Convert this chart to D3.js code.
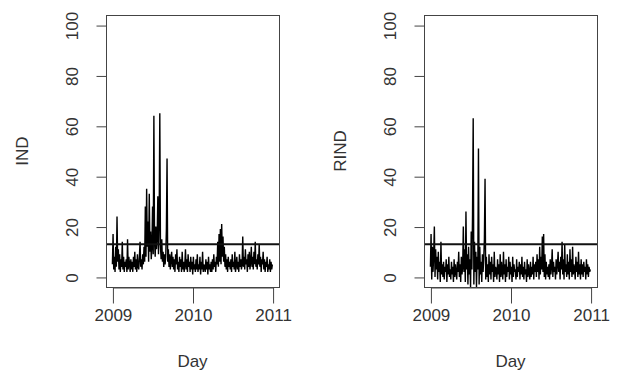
<!DOCTYPE html>
<html>
<head>
<meta charset="utf-8">
<script src="https://cdn.jsdelivr.net/npm/d3@7"></script>
<style>
  html, body { margin: 0; padding: 0; background: #fff; }
  svg { display: block; }
  text { font-family: "Liberation Sans", Arial, Helvetica, sans-serif; fill: #333; }
</style>
</head>
<body>
<svg id="chart" width="618" height="375"></svg>
<script>
// ---- data (one value every 3 days, starting 2009-01-01) ----
const startDate = new Date(2009, 0, 1);
const stepDays = 3;
const xTickLabels = ["2009", "2010", "2011"];
const yTickLabels = [0, 20, 40, 60, 80, 100];
const thresholdIND = 13;
const thresholdRIND = 13;

const ind2009 = [
  5, 17, 3, 8, 2, 12, 4, 24, 6, 11,
  3, 9, 2, 7, 4, 14, 3, 8, 2, 6,
  4, 7, 2, 15, 3, 8, 5, 2, 7, 3,
  6, 2, 8, 4, 10, 3, 7, 2, 9, 4,
  3, 8, 14, 4, 7, 3, 9, 5, 12, 6,
  28, 8, 35, 12, 22, 6, 33, 10, 18, 7,
  12, 28, 9, 64, 14, 8, 20, 11, 16, 32,
  9, 22, 65, 12, 7, 15, 6, 10, 4, 9,
  5, 8, 19, 47, 6, 11, 4, 9, 3, 7,
  10, 4, 8, 3, 7, 2, 9, 5, 11, 3,
  6, 2, 8, 4, 7, 2, 10, 3, 6, 2,
  5, 11, 3, 7, 2, 9, 4, 6, 2, 8
];
const ind2010 = [
  3, 6, 1, 8, 3, 5, 2, 7, 3, 9,
  2, 5, 3, 8, 1, 6, 3, 10, 2, 5,
  4, 2, 7, 3, 6, 1, 8, 3, 5, 2,
  6, 2, 7, 3, 9, 4, 6, 2, 8, 5,
  14, 4, 17, 6, 19, 5, 21, 8, 16, 6,
  12, 4, 9, 3, 7, 2, 8, 4, 6, 3,
  7, 2, 9, 4, 6, 3, 10, 2, 5, 8,
  3, 6, 2, 9, 4, 7, 3, 5, 16, 4,
  8, 3, 11, 5, 7, 2, 9, 4, 10, 3,
  6, 12, 4, 8, 3, 10, 5, 14, 4, 7,
  3, 9, 5, 13, 4, 8, 2, 7, 5, 10,
  3, 7, 2, 6, 4, 8, 2, 5, 3, 7,
  2, 6, 3, 5
];
const rind2009 = [
  4, 17, -1, 12, 2, 9, 20, 0, 11, 3,
  8, -1, 10, 2, 6, -2, 14, 1, 5, 0,
  6, -1, 4, 2, 7, -2, 5, 1, 8, 0,
  3, -1, 6, 1, 4, -2, 7, 0, 5, 2,
  -1, 6, 2, 10, 0, 5, -2, 8, 1, 4,
  20, 2, 11, -2, 26, 3, 9, -3, 12, 1,
  7, -4, 18, 3, 25, 63, -3, 14, 2, 10,
  -4, 8, 3, 51, -3, 12, 1, 6, -2, 9,
  2, 7, 15, 39, -1, 8, 0, 5, -2, 9,
  1, 6, -1, 8, 2, 5, -2, 10, 0, 4,
  3, -1, 7, 1, 5, -2, 9, 0, 6, 2,
  -1, 10, 1, 5, -2, 7, 0, 4, 2, 8
];
const rind2010 = [
  -1, 6, 1, 4, -2, 8, 0, 5, 2, 3,
  -1, 7, 0, 4, 2, 6, -1, 5, 1, 8,
  0, 4, -1, 6, 1, 3, -2, 7, 0, 5,
  2, -1, 6, 0, 4, 1, 8, -1, 5, 2,
  6, 0, 9, 2, 7, -1, 12, 1, 8, 3,
  16, 2, 17, 0, 9, -1, 6, 1, 4, 0,
  5, -1, 7, 1, 4, 11, 0, 6, 2, 4,
  -1, 7, 1, 5, 10, 2, 6, -1, 8, 3,
  14, 1, 7, -1, 13, 2, 5, 0, 9, 1,
  6, -1, 11, 2, 7, 0, 12, 1, 5, 3,
  -1, 8, 2, 6, 0, 10, 1, 5, -1, 7,
  1, 5, 0, 6, 2, 4, -1, 7, 1, 5,
  0, 4, 2, 3
];

// ---- drawing ----
const svg = d3.select("#chart");

function toSeries(values) {
  return values.map((v, i) => ({ date: d3.timeDay.offset(startDate, i * stepDays), value: v }));
}

const panels = [
  { label: "IND", values: ind2009.concat(ind2010), threshold: thresholdIND,
    box: { left: 106, right: 279, top: 15, bottom: 287 } },
  { label: "RIND", values: rind2009.concat(rind2010), threshold: thresholdRIND,
    box: { left: 424, right: 597, top: 15, bottom: 287 } }
];

panels.forEach(p => {
  const b = p.box;
  const data = toSeries(p.values);
  const d0 = new Date(+xTickLabels[0], 0, 1);
  const d1 = new Date(+xTickLabels[xTickLabels.length - 1], 0, 1);
  const span = (b.right - b.left) / 1.08;
  const x = d3.scaleTime().domain([d0, d1]).range([b.left + span * 0.04, b.right - span * 0.04]);
  const y = d3.scaleLinear().domain([-4, 104]).range([b.bottom, b.top]);

  const g = svg.append("g");

  // data line
  const line = d3.line().x(d => x(d.date)).y(d => y(d.value));
  g.append("path")
    .datum(data)
    .attr("d", line)
    .attr("fill", "none")
    .attr("stroke", "#000")
    .attr("stroke-width", 1.4)
    .attr("stroke-linejoin", "miter");

  // horizontal threshold line (full box width)
  g.append("line")
    .attr("x1", b.left).attr("x2", b.right)
    .attr("y1", y(p.threshold)).attr("y2", y(p.threshold))
    .attr("stroke", "#111").attr("stroke-width", 2);

  // box
  g.append("rect")
    .attr("x", b.left + 0.5).attr("y", b.top + 0.5)
    .attr("width", b.right - b.left).attr("height", b.bottom - b.top)
    .attr("fill", "none").attr("stroke", "#444").attr("stroke-width", 1);

  // x axis
  const xAxis = d3.axisBottom(x)
    .tickValues(xTickLabels.map(t => new Date(+t, 0, 1)))
    .tickFormat(d3.timeFormat("%Y"))
    .tickSize(16)
    .tickSizeOuter(0);
  const gx = g.append("g").attr("transform", `translate(0.5,${b.bottom + 0.5})`).call(xAxis);
  gx.select(".domain").attr("stroke", "#444");
  gx.selectAll(".tick line").attr("stroke", "#444");
  gx.selectAll(".tick text")
    .attr("y", 21).attr("dy", "0.71em")
    .style("font-size", "17px")
    .style("font-family", "'Liberation Sans', Arial, sans-serif")
    .attr("fill", "#333");

  // y axis
  const yAxis = d3.axisLeft(y).tickValues(yTickLabels).tickSize(10).tickSizeOuter(0);
  const gy = g.append("g").attr("transform", `translate(${b.left + 0.5},0.5)`).call(yAxis);
  gy.select(".domain").remove();
  gy.selectAll(".tick line").attr("stroke", "#444");
  gy.selectAll(".tick text")
    .attr("x", null).attr("dy", null)
    .attr("text-anchor", "middle")
    .attr("transform", "translate(-29,0) rotate(-90)")
    .style("font-size", "17px")
    .style("font-family", "'Liberation Sans', Arial, sans-serif")
    .attr("fill", "#333");

  // axis titles
  g.append("text")
    .attr("x", (b.left + b.right) / 2)
    .attr("y", 367)
    .attr("text-anchor", "middle")
    .style("font-size", "17px")
    .text("Day");

  g.append("text")
    .attr("transform", `translate(${b.left - 78},${(b.top + b.bottom) / 2}) rotate(-90)`)
    .attr("text-anchor", "middle")
    .style("font-size", "17px")
    .text(p.label);
});
</script>
</body>
</html>
